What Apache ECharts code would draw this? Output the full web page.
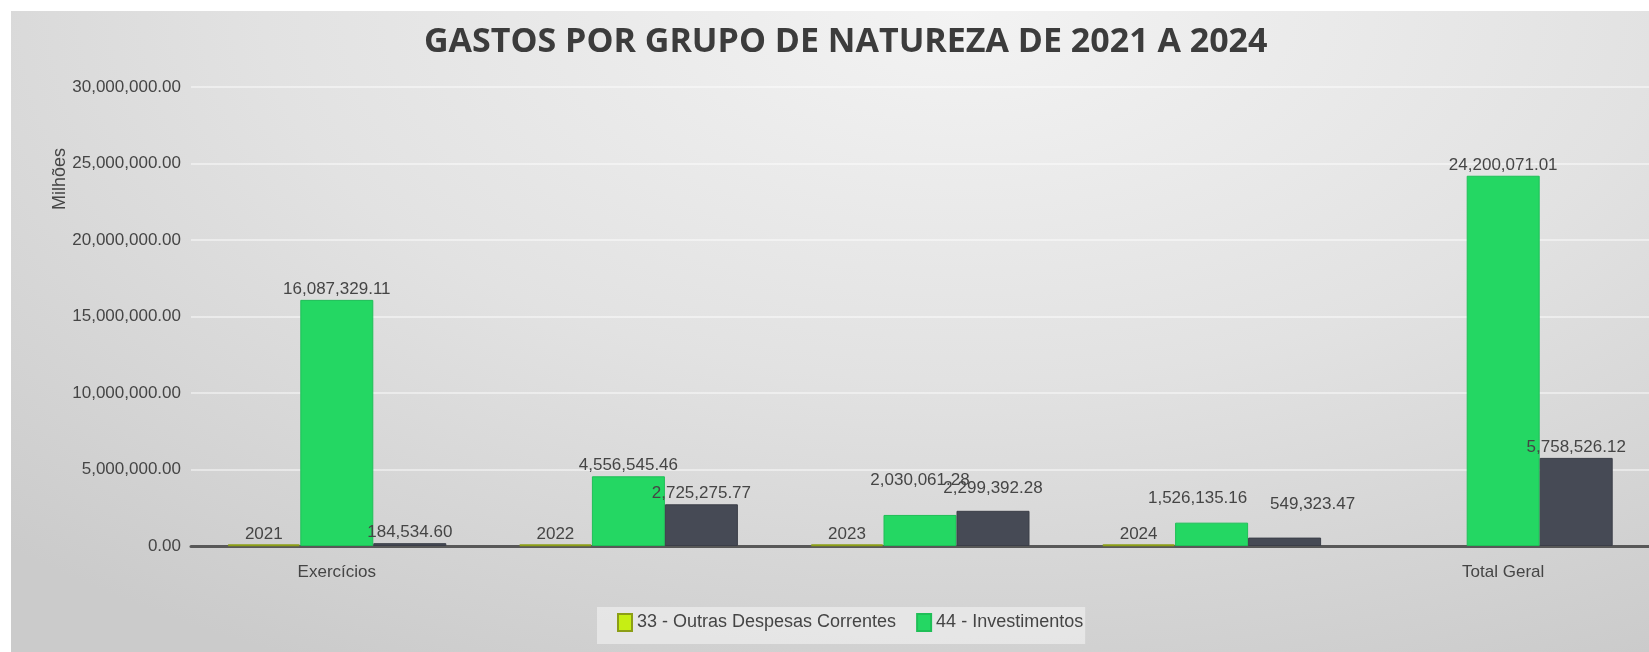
<!DOCTYPE html>
<html>
<head>
<meta charset="utf-8">
<script src="https://cdn.jsdelivr.net/npm/echarts@6/dist/echarts.min.js"></script>
<style>
    html, body { margin: 0; padding: 0; background: #ffffff; }
    #painel {
        position: absolute; left: 11px; top: 11px; width: 1638px; height: 641px;
        background: radial-gradient(ellipse 85% 115% at 58% 0%, #f3f3f3 0%, #e2e2e2 50%, #cbcbcb 100%);
    }
    #grafico { width: 100%; height: 100%; }
</style>
</head>
<body>
<div id="painel"><div id="grafico"></div></div>
<script>
// dados
let categorias = ['2021', '2022', '2023', '2024', 'Total Geral']
let rotulosEixo = ['Exercícios', '', '', '', 'Total Geral']
let nomesSeries = ['33 - Outras Despesas Correntes', '44 - Investimentos', '45 - Inversões Financeiras']
let outrasDespesas = [110000, 95000, 100000, 90000, null]
let investimentos = [16087329.11, 4556545.46, 2030061.28, 1526135.16, 24200071.01]
let inversoes = [184534.60, 2725275.77, 2299392.28, 549323.47, 5758526.12]
let ticksY = [0, 5000000, 10000000, 15000000, 20000000, 25000000, 30000000]

let fonte = 'Liberation Sans'
let corTexto = '#454545'

function formatar(v) {
    return Number(v).toLocaleString('en-US', { minimumFractionDigits: 2, maximumFractionDigits: 2 })
}

// deslocamentos dos rotulos que o Excel moveu
let ajusteRotulo = {
    '1-2': [0, -24],
    '1-3': [-14, -14],
    '2-2': [0, -12],
    '2-3': [28, -23],
}

function dadosSerie(valores, s) {
    return valores.map((v, i) => {
        let aj = ajusteRotulo[s + '-' + i]
        if (!aj) return v
        return { value: v, label: { offset: aj } }
    })
}

let myChart = echarts.init(document.getElementById('grafico'), null, { renderer: 'canvas' })

let option = {
    animation: false,
    title: {
        text: 'GASTOS POR GRUPO DE NATUREZA DE 2021 A 2024',
        left: 408,
        top: 9,
        textStyle: { fontFamily: 'Open Sans', fontWeight: 'bold', fontSize: 34, color: '#3c3c3c' },
    },
    legend: {
        data: [nomesSeries[0], nomesSeries[1]],
        left: 586,
        top: 596,
        padding: [6, 2, 12, 20],
        itemGap: 20,
        itemWidth: 14,
        itemHeight: 17,
        icon: 'rect',
        backgroundColor: 'rgba(238,238,238,0.7)',
        textStyle: { fontFamily: fonte, fontSize: 18, color: corTexto },
    },
    graphic: [
        {
            type: 'text',
            x: 49,
            y: 168,
            rotation: Math.PI / 2,
            style: {
                text: 'Milhões', fontFamily: fonte, fontSize: 18, fill: corTexto,
                align: 'center', verticalAlign: 'middle',
            },
        },
    ],
    grid: { left: 180, right: 0, top: 76, bottom: 106, containLabel: false },
    xAxis: {
        type: 'category',
        data: categorias,
        axisLine: { show: true, lineStyle: { color: '#585858', width: 3 } },
        axisTick: { show: false },
        axisLabel: {
            margin: 18,
            fontFamily: fonte, fontSize: 17, color: corTexto,
            formatter: (v, i) => rotulosEixo[i],
        },
    },
    yAxis: {
        type: 'value',
        min: ticksY[0],
        max: ticksY[ticksY.length - 1],
        interval: ticksY[1] - ticksY[0],
        axisLine: { show: false },
        axisTick: { show: false },
        splitLine: { lineStyle: { color: 'rgba(255,255,255,0.45)', width: 2 } },
        axisLabel: {
            margin: 10,
            fontFamily: fonte, fontSize: 17, color: corTexto,
            formatter: (v) => formatar(v),
        },
    },
    series: [
        {
            name: nomesSeries[0],
            type: 'bar',
            barWidth: 73,
            barGap: '0%',
            data: outrasDespesas,
            itemStyle: { color: '#c6ee14', borderColor: '#8c9e16', borderWidth: 2 },
            label: {
                show: true, position: 'top', distance: 1,
                fontFamily: fonte, fontSize: 17, color: corTexto,
                formatter: (p) => categorias[p.dataIndex],
            },
        },
        {
            name: nomesSeries[1],
            type: 'bar',
            barWidth: 73,
            barGap: '0%',
            data: dadosSerie(investimentos, 1),
            itemStyle: { color: '#24d763', borderColor: '#1fbf57', borderWidth: 1 },
            label: {
                show: true, position: 'top', distance: 2,
                fontFamily: fonte, fontSize: 17, color: corTexto,
                formatter: (p) => formatar(p.value),
            },
        },
        {
            name: nomesSeries[2],
            type: 'bar',
            barWidth: 73,
            barGap: '0%',
            data: dadosSerie(inversoes, 2),
            itemStyle: { color: '#464a55', borderColor: '#3b3e48', borderWidth: 1 },
            label: {
                show: true, position: 'top', distance: 2,
                fontFamily: fonte, fontSize: 17, color: corTexto,
                formatter: (p) => formatar(p.value),
            },
        },
    ],
}

if (option && typeof option === 'object') {
    myChart.setOption(option)
}
window.addEventListener('resize', myChart.resize)
</script>
</body>
</html>
